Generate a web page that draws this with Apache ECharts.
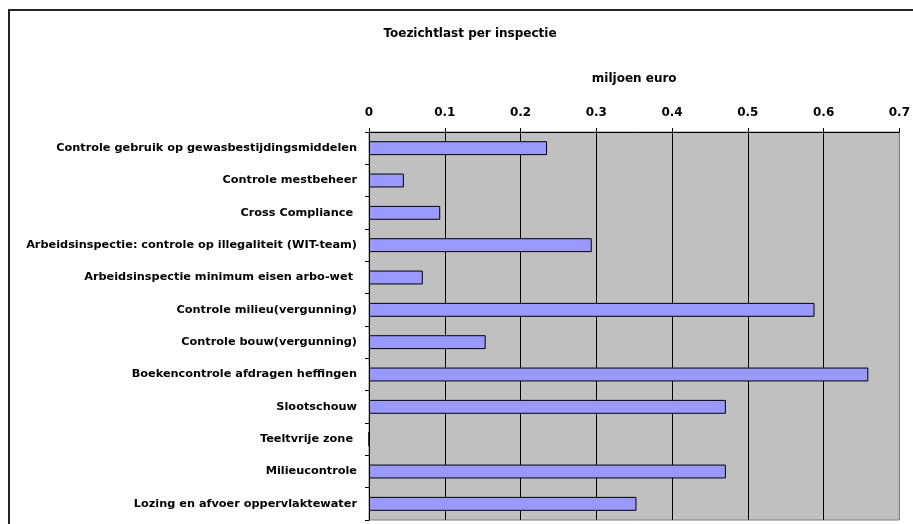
<!DOCTYPE html>
<html>
<head>
<meta charset="utf-8">
<script src="https://cdn.jsdelivr.net/npm/echarts@6/dist/echarts.min.js"></script>
<style>
  html, body { margin: 0; padding: 0; background: #fff; }
  #chart { width: 913px; height: 524px; }
</style>
</head>
<body>
<div id="chart"></div>
<script>
// inspecties (van boven naar beneden)
var categories = [
    'Controle gebruik op gewasbestijdingsmiddelen',
    'Controle mestbeheer',
    'Cross Compliance ',
    'Arbeidsinspectie: controle op illegaliteit (WIT-team)',
    'Arbeidsinspectie minimum eisen arbo-wet ',
    'Controle milieu(vergunning)',
    'Controle bouw(vergunning)',
    'Boekencontrole afdragen heffingen',
    'Slootschouw',
    'Teeltvrije zone ',
    'Milieucontrole',
    'Lozing en afvoer oppervlaktewater'
];
// toezichtlast in miljoen euro
var lastValues = [0.235, 0.046, 0.094, 0.294, 0.071, 0.588, 0.154, 0.659, 0.471, 0, 0.471, 0.353];
var xTicks = [0, 0.1, 0.2, 0.3, 0.4, 0.5, 0.6, 0.7];

var font = 'DejaVu Sans';
var myChart = echarts.init(document.getElementById('chart'));
var option = {
    animation: false,
    backgroundColor: '#fff',
    title: {
        text: 'Toezichtlast per inspectie',
        left: 465,
        top: 23,
        textAlign: 'center',
        textStyle: { fontFamily: font, fontSize: 12, fontWeight: 'bold', color: '#000' }
    },
    graphic: [{
        type: 'rect',
        shape: { x: 9, y: 10, width: 1000, height: 1000 },
        style: { fill: 'none', stroke: '#222', lineWidth: 2 },
        silent: true
    }],
    grid: {
        left: 369, right: 10, top: 132, bottom: 4,
        show: true,
        backgroundColor: '#C0C0C0',
        borderColor: '#808080',
        borderWidth: 1
    },
    xAxis: {
        type: 'value',
        position: 'top',
        min: xTicks[0],
        max: xTicks[xTicks.length - 1],
        interval: 0.1,
        name: 'miljoen euro',
        nameLocation: 'middle',
        nameGap: 47,
        nameTextStyle: { fontFamily: font, fontSize: 12, fontWeight: 'bold', color: '#000' },
        axisLine: { show: true, lineStyle: { color: '#000', width: 1 } },
        axisTick: { show: true, length: 4, lineStyle: { color: '#000' } },
        axisLabel: {
            margin: 13,
            fontFamily: font, fontSize: 12, fontWeight: 'bold', color: '#000',
            formatter: function (v) { return String(Math.round(v * 10) / 10); }
        },
        splitLine: {
            show: true,
            lineStyle: { color: ['#000', '#000', '#000', '#000', '#000', '#000', '#000', '#808080'], width: 1 }
        }
    },
    yAxis: {
        type: 'category',
        inverse: true,
        data: categories,
        axisLine: { show: true, lineStyle: { color: '#000', width: 1 } },
        axisTick: { show: true, length: 4, lineStyle: { color: '#000' } },
        axisLabel: {
            margin: 12,
            fontFamily: font, fontSize: 11.3, fontWeight: 'bold', color: '#000'
        },
        splitLine: { show: false }
    },
    series: [{
        name: 'Toezichtlast',
        type: 'bar',
        data: lastValues,
        barCategoryGap: '57%',
        itemStyle: { color: '#9999FF', borderColor: '#000', borderWidth: 1 }
    }]
};
myChart.setOption(option);
</script>
</body>
</html>
